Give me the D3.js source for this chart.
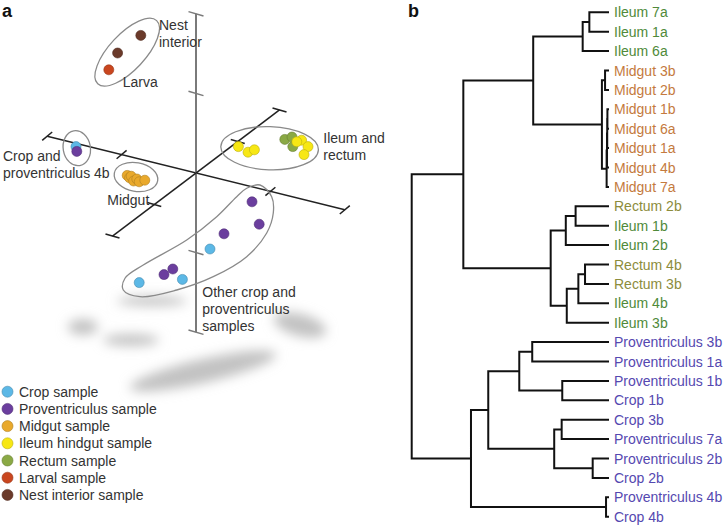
<!DOCTYPE html>
<html><head><meta charset="utf-8">
<script src="https://cdn.jsdelivr.net/npm/d3@7"></script>
<style>body{margin:0;background:#fff}svg{display:block;font-family:"Liberation Sans",Arial,Helvetica,sans-serif}</style>
</head><body><svg id="c" width="726" height="527"></svg>
<script>
// ================= DATA =================
// Panel a: legend categories and colours
const sampleTypes = ["Crop sample","Proventriculus sample","Midgut sample","Ileum hindgut sample","Rectum sample","Larval sample","Nest interior sample"];
const typeColors  = ["#5cb8e6","#6b3e9e","#e9a92c","#f7e714","#8aa945","#c9461f","#6b3a2a"];

// Panel a: ordination coordinates (PCo plane units) per sample type
const nestPts   = [[-0.69,1.72],[-0.98,1.50]];
const larvaPts  = [[-1.09,1.29]];
const cropPts   = [[-1.50,0.33],[0.175,-0.95],[-0.17,-1.33],[-0.71,-1.37]];
const provPts   = [[-1.49,0.27],[0.70,-0.36],[0.79,-0.64],[0.35,-0.76],[-0.29,-1.20],[-0.40,-1.27]];
const midgutPts = [[-0.86,-0.03],[-0.83,-0.06],[-0.81,-0.04],[-0.78,-0.10],[-0.74,-0.075],[-0.71,-0.11],[-0.64,-0.09]];
const rectumPts = [[1.11,0.42],[1.20,0.45],[1.21,0.33]];
const ileumPts  = [[0.53,0.33],[0.65,0.26],[0.73,0.29],[1.32,0.41],[1.40,0.33],[1.35,0.23],[1.26,0.39]];

// Panel a: cluster annotations
const groupLabels = [
  {lines:["Nest","interior"], at:[-0.4625,1.7875]},
  {lines:["Larva"], at:[-0.916,1.079]},
  {lines:["Crop and","proventriculus 4b"], at:[-2.4125,0.154]},
  {lines:["Midgut"], at:[-1.109,-0.40]},
  {lines:["Ileum and","rectum"], at:[1.591,0.371]},
  {lines:["Other crop and","proventriculus","samples"], at:[0.079,-1.554]}
];
const groupHulls = [ // centre, semi-axes (plane units), rotation (deg)
  {c:[-0.86,1.51], r:[0.54,0.225], rot:-47},
  {c:[-1.49,0.31], r:[0.17,0.22], rot:-10},
  {c:[-0.75,-0.05], r:[0.275,0.18], rot:10},
  {c:[0.92,0.31], r:[0.61,0.27], rot:2}
];
const otherHull = [[0.634,-0.191],[0.8,-0.15],[0.946,-0.296],[0.966,-0.5],[0.884,-0.75],[0.634,-1.046],
  [0.216,-1.296],[-0.241,-1.4625],[-0.7,-1.546],[-0.909,-1.4625],[-0.8875,-1.316],[-0.659,-1.15],
  [-0.116,-0.8375],[0.259,-0.546],[0.509,-0.296]];
const axisTicks = [-2,-1,1,2];

// Panel b: dendrogram [height, child, child]; leaves are names
const dendroTree = [1.0,
  [0.737,
    [0.381,
      [0.129,[0.095,"Ileum 7a","Ileum 1a"],"Ileum 6a"],
      [0.031,[0.015,"Midgut 3b","Midgut 2b"],
        [0.007,[0.005,[0.004,[0.003,"Midgut 1b","Midgut 6a"],"Midgut 1a"],"Midgut 4b"],"Midgut 7a"]]
    ],
    [0.292,
      [0.215,[0.165,"Rectum 2b","Ileum 1b"],"Ileum 2b"],
      [0.210,[0.151,[0.117,"Rectum 4b","Rectum 3b"],"Ileum 4b"],"Ileum 3b"]
    ]
  ],
  [0.698,
    [0.610,
      [0.452,[0.386,"Proventriculus 3b","Proventriculus 1a"],[0.233,"Proventriculus 1b","Crop 1b"]],
      [0.274,[0.236,"Crop 3b","Proventriculus 7a"],[0.078,"Proventriculus 2b","Crop 2b"]]
    ],
    [0.010,"Proventriculus 4b","Crop 4b"]
  ]
];
const labelColors = {Ileum:"#4f8a3a", Midgut:"#c47a3e", Rectum:"#8c8c3c", Proventriculus:"#5548b0", Crop:"#5548b0"};

// ================= DRAW =================
const svg = d3.select("#c");
const defs = svg.append("defs");
defs.append("filter").attr("id","blur").attr("x","-50%").attr("y","-50%").attr("width","200%").attr("height","200%")
  .append("feGaussianBlur").attr("stdDeviation",6);

// ---- Panel a ----
const xA = d3.scaleLinear().domain([0,1]).range([196,276]);
const yA = d3.scaleLinear().domain([0,1]).range([173,93]);
const gA = svg.append("g");

// shadows
const shadows = [[83,327,15,8,0],[131,340,28,6,0],[300,325,27,11,15],[203,371,75,12,-13],[152,301,35,5,0]];
gA.append("g").attr("filter","url(#blur)").selectAll("ellipse").data(shadows).join("ellipse")
  .attr("cx",d=>d[0]).attr("cy",d=>d[1]).attr("rx",d=>d[2]).attr("ry",d=>d[3])
  .attr("transform",d=>`rotate(${d[4]},${d[0]},${d[1]})`).attr("fill","#c2c2c2");

// axes: u (upper-left -> lower-right), v (vertical), w (lower-left -> upper-right)
const axes = [
  {vec:[0.93,-0.23], tick:[5,-4.2], color:"#222", w:1.5},
  {vec:[0,0.995], tick:[7.5,2.2], color:"#7a7a7a", w:2},
  {vec:[0.522,0.394], tick:[7,2], color:"#222", w:1.5}
];
axes.forEach(a=>{
  const p = t=>[xA(a.vec[0]*t), yA(a.vec[1]*t)];
  const [x1,y1]=p(-2),[x2,y2]=p(2);
  gA.append("line").attr("x1",x1).attr("y1",y1).attr("x2",x2).attr("y2",y2)
    .attr("stroke",a.color).attr("stroke-width",a.w);
  axisTicks.forEach(t=>{
    const [cx,cy]=p(t);
    gA.append("line").attr("x1",cx-a.tick[0]).attr("y1",cy-a.tick[1]).attr("x2",cx+a.tick[0]).attr("y2",cy+a.tick[1])
      .attr("stroke",a.color).attr("stroke-width",1.5);
  });
});

// hulls
gA.selectAll("ellipse.hull").data(groupHulls).join("ellipse").attr("class","hull")
  .attr("cx",d=>xA(d.c[0])).attr("cy",d=>yA(d.c[1]))
  .attr("rx",d=>xA(d.r[0])-xA(0)).attr("ry",d=>yA(0)-yA(d.r[1]))
  .attr("transform",d=>`rotate(${d.rot},${xA(d.c[0])},${yA(d.c[1])})`)
  .attr("fill","none").attr("stroke","#8a8a8a").attr("stroke-width",1.3);
gA.append("path").attr("d", d3.line().x(d=>xA(d[0])).y(d=>yA(d[1])).curve(d3.curveCatmullRomClosed.alpha(0.5))(otherHull))
  .attr("fill","none").attr("stroke","#8a8a8a").attr("stroke-width",1.3);

// points
const layers = [[nestPts,6],[larvaPts,5],[cropPts,0],[provPts,1],[midgutPts,2],[rectumPts,4],[ileumPts,3]];
layers.forEach(([pts,k])=>{
  gA.append("g").selectAll("circle").data(pts).join("circle")
    .attr("cx",d=>xA(d[0])).attr("cy",d=>yA(d[1])).attr("r",5)
    .attr("fill",typeColors[k]).attr("stroke",d3.color(typeColors[k]).darker(0.8)).attr("stroke-width",0.6);
});

// annotations
groupLabels.forEach(g=>{
  const t = gA.append("text").attr("x",xA(g.at[0])).attr("y",yA(g.at[1]))
    .attr("font-size",14).attr("fill","#333");
  g.lines.forEach((l,i)=>t.append("tspan").attr("x",xA(g.at[0])).attr("dy",i?17:0).text(l));
});

// legend
const lg = gA.append("g");
sampleTypes.forEach((s,i)=>{
  const y = 391.7 + i*17.2;
  lg.append("circle").attr("cx",7.5).attr("cy",y).attr("r",5.5)
    .attr("fill",typeColors[i]).attr("stroke",d3.color(typeColors[i]).darker(0.8)).attr("stroke-width",0.6);
  lg.append("text").attr("x",19).attr("y",y+5).attr("font-size",14).attr("fill","#333").text(s);
});
svg.append("text").attr("x",2).attr("y",17).attr("font-size",18).attr("font-weight","bold").attr("fill","#111").text("a");

// ---- Panel b ----
const root = d3.hierarchy(dendroTree, d => Array.isArray(d) ? d.slice(1) : null);
const leafNames = root.leaves().map(d=>d.data);
const yB = d3.scalePoint().domain(leafNames).range([12.3,516.7]);
const xB = d3.scaleLinear().domain([0,1]).range([608,411.7]);
root.eachAfter(n=>{
  n.h = n.children ? n.data[0] : 0;
  n.py = n.children ? (n.children[0].py + n.children[n.children.length-1].py)/2 : yB(n.data);
});
const gB = svg.append("g");
let path = "";
root.each(n=>{
  if(!n.children) return;
  const x = xB(n.h);
  path += `M${x},${n.children[0].py}V${n.children[n.children.length-1].py}`;
  n.children.forEach(c=>{ path += `M${x},${c.py}H${xB(c.h)}`; });
});
gB.append("path").attr("d",path).attr("fill","none").attr("stroke","#111").attr("stroke-width",2).attr("stroke-linecap","square");
gB.selectAll("text").data(root.leaves()).join("text")
  .attr("x",614).attr("y",d=>d.py+5).attr("font-size",14)
  .attr("fill",d=>labelColors[d.data.split(" ")[0]]).text(d=>d.data);
svg.append("text").attr("x",408).attr("y",17).attr("font-size",18).attr("font-weight","bold").attr("fill","#111").text("b");
</script></body></html>
